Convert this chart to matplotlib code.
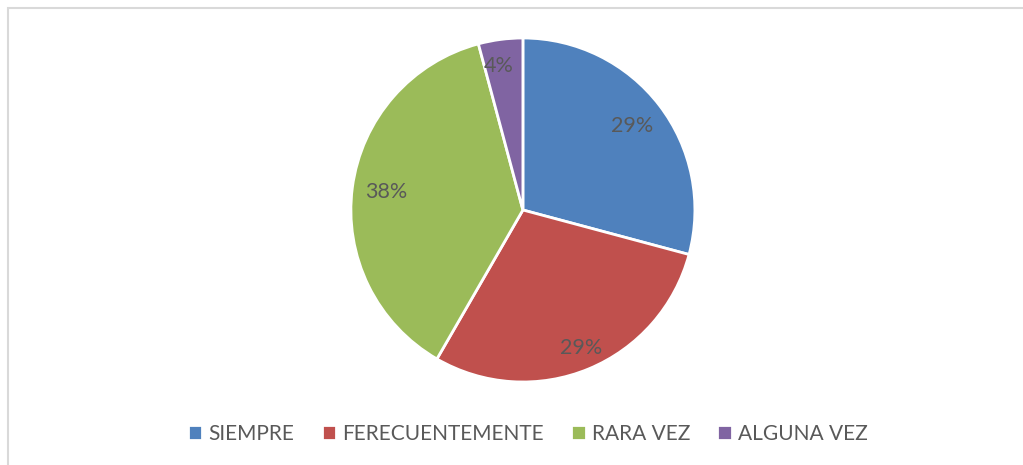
import matplotlib
matplotlib.use("Agg")
import matplotlib.pyplot as plt
from matplotlib.patches import Rectangle

labels = ["SIEMPRE", "FERECUENTEMENTE", "RARA VEZ", "ALGUNA VEZ"]
counts = [7, 7, 9, 1]
colors = ["#4F81BD", "#C0504D", "#9BBB59", "#8064A2"]

plt.rcParams["font.family"] = ["Lato", "DejaVu Sans"]
text_color = "#595959"

fig = plt.figure(figsize=(10.23, 4.65), dpi=100)
ax = fig.add_axes([0.343, 0.1785, 0.3363, 0.7398])

wedges, texts, autotexts = ax.pie(
    counts, colors=colors, startangle=90, counterclock=False,
    autopct=lambda p: f"{p:.0f}%", pctdistance=0.8,
    wedgeprops=dict(edgecolor="white", linewidth=2),
    textprops=dict(color=text_color, fontsize=15.5),
)
ax.set_xlim(-1, 1)
ax.set_ylim(-1, 1)
ax.set_aspect("equal")

# small slice label sits a bit further out, like the original
autotexts[3].set_position((-0.14, 0.84))
autotexts[1].set_position((0.34, -0.8))

# chart border (right/bottom run off the image)
fig.add_artist(Rectangle((0.0078, -0.2), 1.2, 1.183, transform=fig.transFigure,
                         fill=False, edgecolor="#d9d9d9", linewidth=1.5))

fig.legend(wedges, labels, loc="center", bbox_to_anchor=(0.516, 0.067), ncol=4,
           frameon=False, handlelength=0.7, handleheight=0.7, handletextpad=0.3,
           columnspacing=1.3, prop=dict(size=15), labelcolor=text_color)

fig.savefig("out.png", dpi=100, facecolor="white")
